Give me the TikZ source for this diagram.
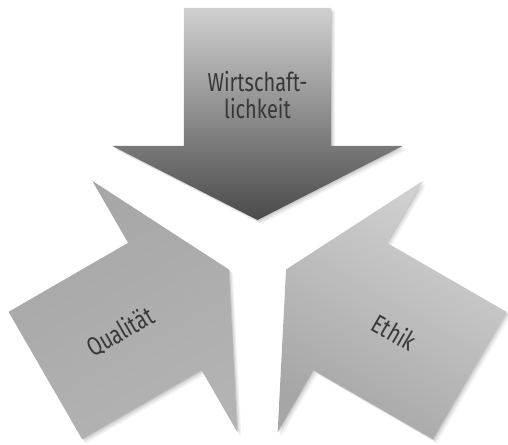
\documentclass[tikz,border=0pt]{standalone}
\usepackage{fontspec}
\setmainfont{Fira Sans}[FakeStretch=0.77]
\usepackage{xcolor}
\usepackage{tikz}
\usetikzlibrary{positioning}

\definecolor{wirtA}{HTML}{D0D0D0}
\definecolor{wirtB}{HTML}{4A4A4A}
\definecolor{qualA}{HTML}{B3B3B3}
\definecolor{qualB}{HTML}{A6A6A6}
\definecolor{ethA}{HTML}{D2D2D2}
\definecolor{ethB}{HTML}{A6A6A6}
\definecolor{labelgray}{HTML}{383838}

\tikzset{
  arrow shape/.style={insert path={(-73.5,245) -- (73.5,245) -- (73.5,107) -- (145,107)
      -- (0,33) -- (-145,107) -- (-73.5,107) -- cycle}},
  arrow label/.style={text=labelgray, align=center, font=\fontsize{26}{27}\selectfont}
}

\begin{document}
\begin{tikzpicture}[x=1pt, y=1pt]

\useasboundingbox (-257.5,-191) rectangle (250.5,253);

% soft shadows
\foreach \a in {0,120,240}
  \foreach \s/\o in {1/0.10, 2.5/0.08, 4/0.05}
    \fill [black, opacity=\o, xshift=\s, yshift=-\s, rotate=\a, arrow shape];

% the three arrows
\foreach \a/\ca/\cb/\ang in {0/wirtA/wirtB/0, 120/qualA/qualB/-150, 240/ethA/ethB/-30}
  \shade [top color=\ca, bottom color=\cb, shading angle=\ang, rotate=\a, arrow shape];

\node [arrow label] (wirtschaft) at (90:158) {Wirtschaft-\\lichkeit};
\node [arrow label, rotate=30] (qualitaet) at (210:158) {Qualität};
\node [arrow label, rotate=-30] (ethik) at (330:158) {Ethik};

\end{tikzpicture}
\end{document}
